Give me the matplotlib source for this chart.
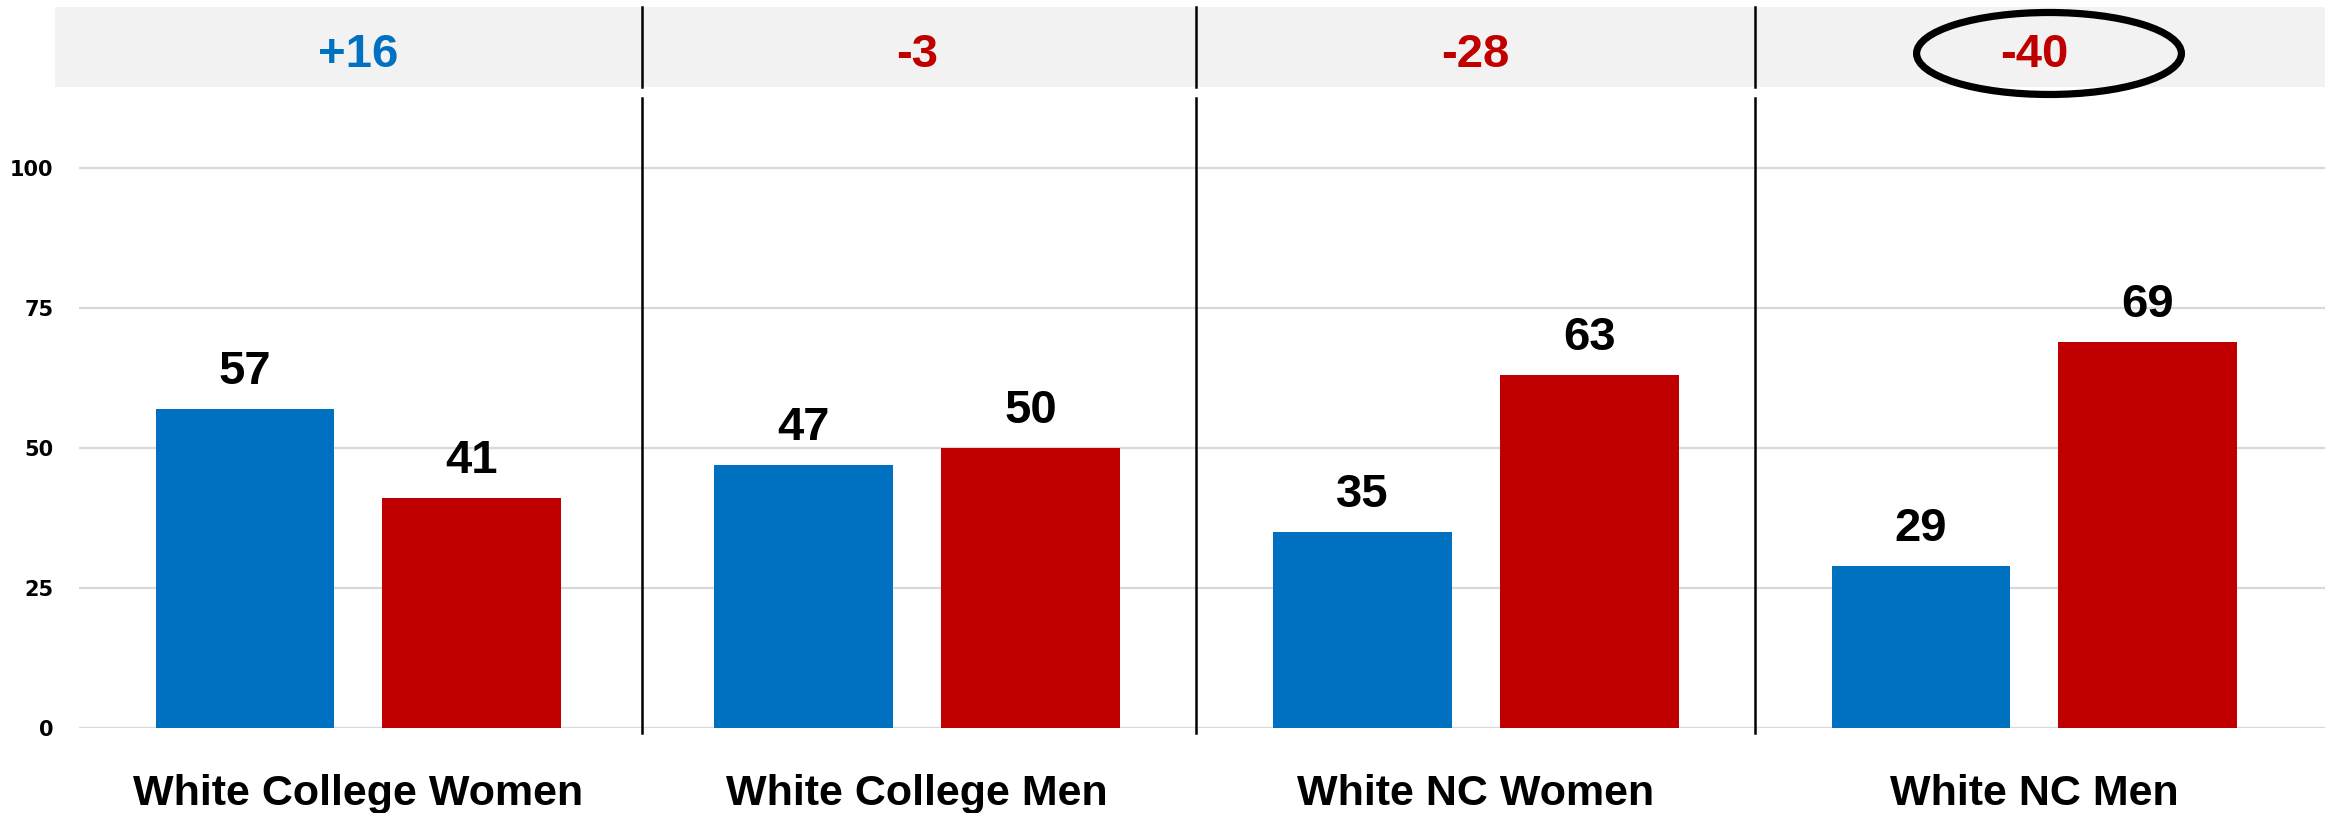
import numpy as np
import matplotlib
matplotlib.use("Agg")
import matplotlib.pyplot as plt
from matplotlib.patches import Rectangle, Ellipse

# data
groups = ["White College Women", "White College Men", "White NC Women", "White NC Men"]
dem = [57, 47, 35, 29]
rep = [41, 50, 63, 69]
margins = ["+16", "-3", "-28", "-40"]
yticks = [0, 25, 50, 75, 100]

blue = "#0070C0"
red = "#C00000"

fig = plt.figure(figsize=(23.25, 8.13), dpi=100)
ax = fig.add_axes([0.03398, 0.10455, 0.96602, 0.88684])
ax.set_xlim(-0.5, 3.52)
ax.set_ylim(0, 128.75)

x = np.arange(len(groups))
width = 0.32
off = 0.203

ax.bar(x - off, dem, width=width, color=blue, zorder=2)
ax.bar(x + off, rep, width=width, color=red, zorder=2)

lab_font = dict(family=["Liberation Sans", "DejaVu Sans"], fontweight="bold", fontsize=34)
for xi, v in zip(x - off, dem):
    ax.annotate(str(v), (xi, v), xytext=(0, 18), textcoords="offset points",
                ha="center", va="baseline", **lab_font)
for xi, v in zip(x + off, rep):
    ax.annotate(str(v), (xi, v), xytext=(0, 18), textcoords="offset points",
                ha="center", va="baseline", **lab_font)

# gridlines
ax.set_yticks(yticks)
ax.set_yticklabels([str(t) for t in yticks], fontfamily="DejaVu Sans",
                   fontweight="bold", fontsize=15)
ax.tick_params(axis="y", length=0, pad=18.5)
ax.set_xticks([])
ax.yaxis.grid(True, color="#D9D9D9", linewidth=1.6, zorder=0)
ax.set_axisbelow(True)
for s in ax.spines.values():
    s.set_visible(False)

# grey header band with margins
band_lo, band_hi = 114.46, 128.75
ax.add_patch(Rectangle((-0.543, band_lo), 3.52 + 0.543, band_hi - band_lo,
                       facecolor="#F2F2F2", edgecolor="none", clip_on=False, zorder=1))
for xi, m in zip(x, margins):
    ax.text(xi, 118.0, m, ha="center", va="baseline",
            color=blue if m.startswith("+") else red, **lab_font)

# dividers
for d in [0.507, 1.5, 2.5]:
    ax.plot([d, d], [-0.9, 112.5], color="black", lw=1.8, clip_on=False, zorder=3)
    ax.plot([d, d], [band_lo, band_hi], color="black", lw=1.8, clip_on=False, zorder=3)

# circle the last margin
ax.add_patch(Ellipse((3.026, 120.45), 0.474, 14.64, fill=False, edgecolor="black",
                     lw=5.2, clip_on=False, zorder=4))

# category labels
for xi, g in zip(x, groups):
    ax.text(xi, -13.8, g, ha="center", va="baseline", fontsize=31, fontweight="bold",
            family=["Liberation Sans", "DejaVu Sans"], clip_on=False)

fig.savefig("out.png", dpi=100)
